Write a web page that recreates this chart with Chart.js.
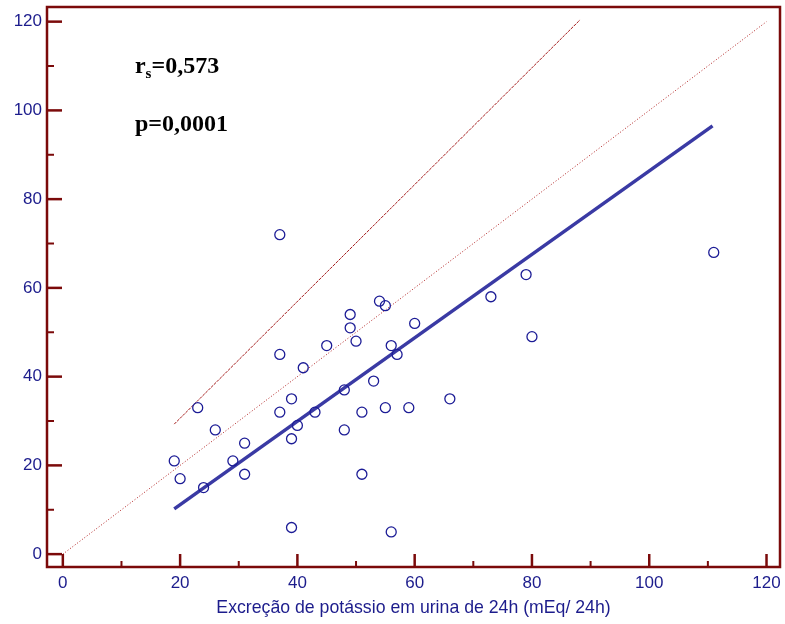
<!DOCTYPE html>
<html><head><meta charset="utf-8">
<script src="https://cdn.jsdelivr.net/npm/chart.js@4/dist/chart.umd.min.js"></script>
<style>html,body{margin:0;padding:0;background:#fff}#wrap{width:785px;height:624px}</style>
</head><body><div id="wrap"><canvas id="c" width="785" height="624"></canvas></div>
<script>
// Data
const pointsX = [19,20,23,24,26,29,31,31,37,37,37,39,39,39,40,41,43,45,48,48,49,49,50,51,51,53,54,55,55,56,56,57,59,60,66,73,79,80,111];
const pointsY = [21,17,33,15,28,21,25,18,72,45,32,35,26,6,29,42,32,47,37,28,54,51,48,32,18,39,57,56,33,47,5,45,33,52,35,58,63,49,68];
const regressionX = [19,110.8];
const regressionY = [10.2,96.5];
const identityX = [0,120];
const identityY = [0,120];
const upperX = [19,88.2];
const upperY = [29.3,120.4];
const xTicks = [0,20,40,60,80,100,120];
const yTicks = [0,20,40,60,80,100,120];
const xMinorTicks = [10,30,50,70,90,110];
const yMinorTicks = [10,30,50,70,90,110];
const xTitle = 'Excreção de potássio em urina de 24h (mEq/ 24h)';
const statR = '0,573';
const statP = 'p=0,0001';

const frameColor = '#7b0a0a';
const textBlue = '#1c1c8c';

const zip = (xs, ys) => xs.map((x,i)=>({x, y: ys[i]}));

const framePlugin = {
  id: 'frame',
  afterDatasetsDraw(chart) {
    const {ctx, chartArea: a, scales: {x, y}} = chart;
    ctx.save();
    ctx.strokeStyle = frameColor;
    ctx.lineCap = 'butt';
    ctx.lineWidth = 2.5;
    ctx.strokeRect(a.left, a.top, a.right - a.left, a.bottom - a.top);
    ctx.lineWidth = 2.5;
    yTicks.forEach(v => { const p = y.getPixelForValue(v); ctx.beginPath(); ctx.moveTo(a.left, p); ctx.lineTo(a.left + 15, p); ctx.stroke(); });
    ctx.lineWidth = 2;
    yMinorTicks.forEach(v => { const p = y.getPixelForValue(v); ctx.beginPath(); ctx.moveTo(a.left, p); ctx.lineTo(a.left + 7, p); ctx.stroke(); });
    ctx.lineWidth = 2.5;
    xTicks.forEach(v => { const p = x.getPixelForValue(v); ctx.beginPath(); ctx.moveTo(p, a.bottom); ctx.lineTo(p, a.bottom - 13); ctx.stroke(); });
    ctx.lineWidth = 2;
    xMinorTicks.forEach(v => { const p = x.getPixelForValue(v); ctx.beginPath(); ctx.moveTo(p, a.bottom); ctx.lineTo(p, a.bottom - 6); ctx.stroke(); });
    ctx.fillStyle = '#000';
    ctx.textBaseline = 'alphabetic';
    ctx.textAlign = 'left';
    const tx = x.getPixelForValue(12.3);
    const ty1 = y.getPixelForValue(108.4);
    const ty2 = y.getPixelForValue(95.4);
    ctx.font = 'bold 24px "Liberation Serif", "DejaVu Serif", serif';
    ctx.fillText('r', tx, ty1);
    let w = ctx.measureText('r').width;
    ctx.font = 'bold 15px "Liberation Serif", serif';
    ctx.fillText('s', tx + w, ty1 + 5);
    let w2 = ctx.measureText('s').width;
    ctx.font = 'bold 24px "Liberation Serif", "DejaVu Serif", serif';
    ctx.fillText('=' + statR, tx + w + w2, ty1);
    ctx.fillText(statP, tx, ty2);
    ctx.restore();
  }
};

new Chart(document.getElementById('c'), {
  type: 'scatter',
  data: {
    datasets: [
      { label: 'upper', data: zip(upperX, upperY), showLine: true, borderColor: '#a31a1a', borderWidth: 1, borderDash: [3,1], pointRadius: 0, order: 3 },
      { label: 'identity', data: zip(identityX, identityY), showLine: true, borderColor: '#b02020', borderWidth: 1, borderDash: [1,2], pointRadius: 0, order: 3 },
      { label: 'regression', data: zip(regressionX, regressionY), showLine: true, borderColor: '#3a3aa4', borderWidth: 3.5, pointRadius: 0, order: 2 },
      { label: 'points', data: zip(pointsX, pointsY), showLine: false, pointRadius: 5, pointBorderWidth: 1.3, pointBorderColor: '#1c1c96', pointBackgroundColor: 'rgba(0,0,0,0)', order: 1 }
    ]
  },
  options: {
    responsive: false,
    animation: false,
    layout: { autoPadding: false, padding: { top: 7, right: 5, left: 0, bottom: 0 } },
    plugins: { legend: { display: false }, tooltip: { enabled: false } },
    scales: {
      x: {
        type: 'linear', min: -2.7, max: 122.3,
        grid: { display: false, drawTicks: false }, border: { display: false },
        afterBuildTicks: s => { s.ticks = xTicks.map(v => ({ value: v })); },
        afterFit: s => { s.height = 57; s.paddingLeft = 0; s.paddingRight = 0; s.paddingTop = 0; s.paddingBottom = 0; },
        ticks: { color: textBlue, font: { family: 'Arial, "Liberation Sans", sans-serif', size: 17 }, padding: 6, maxRotation: 0, autoSkip: false },
        title: { display: true, text: xTitle, color: textBlue, font: { family: 'Arial, "Liberation Sans", sans-serif', size: 17.7 }, padding: { top: 0, bottom: 5 } }
      },
      y: {
        type: 'linear', min: -2.9, max: 123.3,
        grid: { display: false, drawTicks: false }, border: { display: false },
        afterBuildTicks: s => { s.ticks = yTicks.map(v => ({ value: v })); },
        afterFit: s => { s.width = 47; s.paddingLeft = 0; s.paddingRight = 0; s.paddingTop = 0; s.paddingBottom = 0; },
        ticks: { color: textBlue, font: { family: 'Arial, "Liberation Sans", sans-serif', size: 17 }, padding: 5, autoSkip: false }
      }
    }
  },
  plugins: [framePlugin]
});
</script></body></html>
